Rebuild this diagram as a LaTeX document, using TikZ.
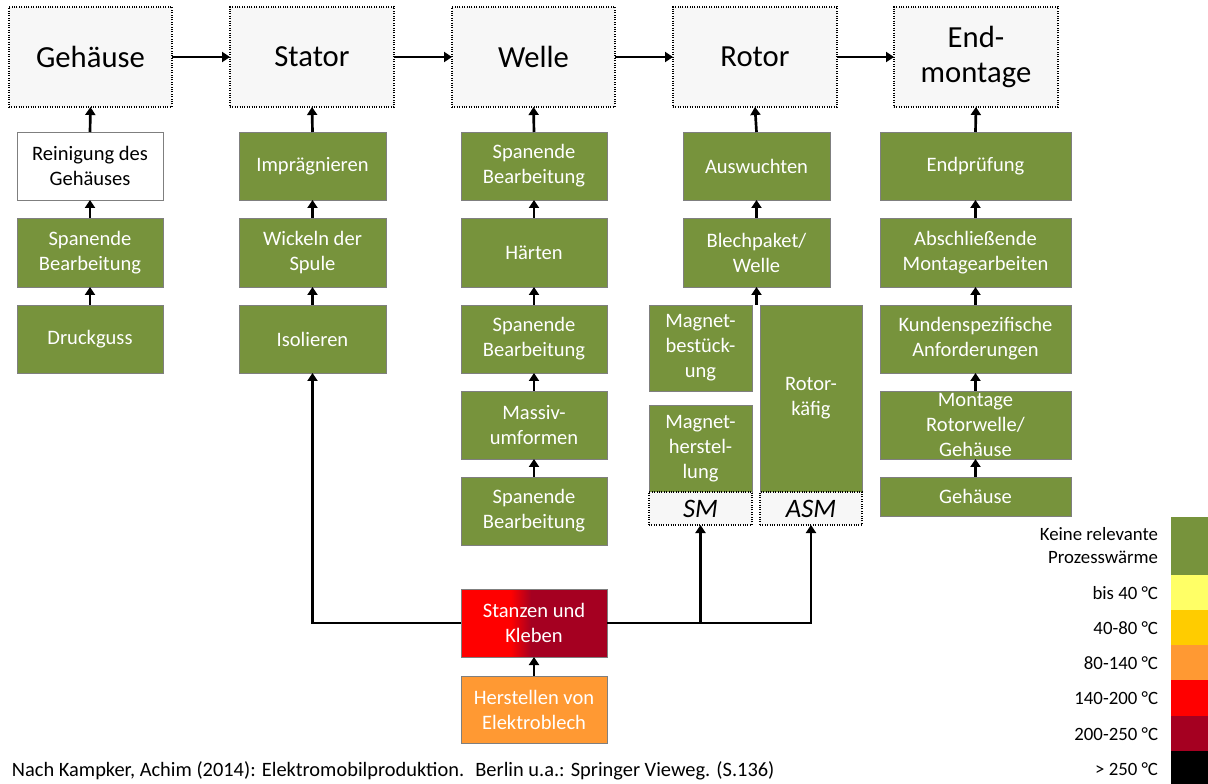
\documentclass[tikz,border=0pt]{standalone}
\usepackage{fontspec}
\setmainfont{Carlito}
\usetikzlibrary{arrows.meta}

\definecolor{procgreen}{HTML}{77933C}
\definecolor{headfill}{HTML}{F7F7F7}
\definecolor{edgegray}{HTML}{7F7F7F}
\definecolor{heatyellow}{HTML}{FFFF66}
\definecolor{heatgold}{HTML}{FFCC00}
\definecolor{heatorange}{HTML}{FF9933}
\definecolor{heatred}{HTML}{FF0000}
\definecolor{heatdark}{HTML}{A50021}

% red-to-dark-red blend used for the punching/gluing step
\pgfdeclarehorizontalshading{punchglue}{100bp}{%
  color(0bp)=(heatred); color(42bp)=(heatred);
  color(49bp)=(heatdark); color(100bp)=(heatdark)}

% box from its corner coordinates (in px): style, name, x1, y1, x2, y2, text
\newcommand\cornerbox[7]{%
  \pgfmathsetmacro\cbw{(#5-#3)*0.75}%
  \pgfmathsetmacro\cbh{(#6-#4)*0.75}%
  \node[#1, minimum width=\cbw pt, minimum height=\cbh pt] (#2)
    at ({(#3+#5)/2},{(#4+#6)/2}) {#7};}

\begin{document}
\begin{tikzpicture}[x=0.75pt,y=-0.75pt,
  every node/.style={inner sep=0pt, outer sep=0pt},
  stage/.style={draw=black, densely dotted, line width=0.8pt, fill=headfill,
    align=center, font=\fontsize{23}{26}\selectfont},
  variant/.style={stage, font=\fontsize{20}{22}\selectfont\itshape},
  proc/.style={draw=edgegray, line width=0.5pt, fill=procgreen, text=white,
    align=center, font=\fontsize{15.4}{18.8}\selectfont},
  plainproc/.style={proc, fill=white, text=black},
  band/.style={draw=none},
  legtext/.style={anchor=east, align=right, font=\fontsize{14.1}{17.3}\selectfont},
  flow/.style={line width=2pt, -{Triangle[width=7.5pt,length=6pt]}}]

\useasboundingbox (0,0) rectangle (1208,784);

% main stages
\cornerbox{stage}{geh}{9}{7}{172}{107}{Gehäuse}
\cornerbox{stage}{sta}{230}{7}{394}{107}{Stator}
\cornerbox{stage}{wel}{452}{7}{615}{107}{Welle}
\cornerbox{stage}{rot}{673}{7}{837}{107}{Rotor}
\cornerbox{stage}{emo}{894}{7}{1058}{107}{End-\\montage}

\draw[flow] (geh.east) -- (sta.west);
\draw[flow] (sta.east) -- (wel.west);
\draw[flow] (wel.east) -- (rot.west);
\draw[flow] (rot.east) -- (emo.west);

% housing
\cornerbox{plainproc}{g1}{17}{132}{163}{200}{Reinigung des\\Gehäuses}
\cornerbox{proc}{g2}{17}{218}{163}{287}{Spanende\\Bearbeitung}
\cornerbox{proc}{g3}{17}{305}{163}{373}{Druckguss}
\draw[flow] (g3.north) -- (g2.south);
\draw[flow] (g2.north) -- (g1.south);
\draw[flow] (g1.north) -- (geh.south);

% stator
\cornerbox{proc}{s1}{239}{132}{386}{200}{Imprägnieren}
\cornerbox{proc}{s2}{239}{218}{386}{287}{Wickeln der\\Spule}
\cornerbox{proc}{s3}{239}{305}{386}{373}{Isolieren}
\draw[flow] (s3.north) -- (s2.south);
\draw[flow] (s2.north) -- (s1.south);
\draw[flow] (s1.north) -- (sta.south);

% shaft
\cornerbox{proc}{w1}{461}{132}{607}{200}{Spanende\\Bearbeitung}
\cornerbox{proc}{w2}{461}{218}{607}{287}{Härten}
\cornerbox{proc}{w3}{461}{305}{607}{373}{Spanende\\Bearbeitung}
\cornerbox{proc}{w4}{461}{391}{607}{459}{Massiv-\\umformen}
\cornerbox{proc}{w5}{461}{477}{607}{545}{Spanende\\Bearbeitung}
\draw[flow] (w5.north) -- (w4.south);
\draw[flow] (w4.north) -- (w3.south);
\draw[flow] (w3.north) -- (w2.south);
\draw[flow] (w2.north) -- (w1.south);
\draw[flow] (w1.north) -- (wel.south);

% rotor
\cornerbox{proc}{r1}{683}{132}{830}{200}{Auswuchten}
\cornerbox{proc}{r2}{683}{218}{830}{287}{Blechpaket/\\Welle}
\cornerbox{proc}{r3}{649}{305}{752}{391}{Magnet-\\bestück-\\ung}
\cornerbox{proc}{r4}{649}{405}{752}{492}{Magnet-\\herstel-\\lung}
\cornerbox{proc}{r5}{760}{305}{862}{492}{Rotor-\\käfig}
\cornerbox{variant}{sm}{649}{492}{752}{525}{SM}
\cornerbox{variant}{asm}{760}{492}{862}{525}{ASM}
\coordinate (rj) at (r2.south |- r3.north);
\draw[flow] (rj) -- (r2.south);
\draw[flow] (r2.north) -- (r1.south);
\draw[flow] (r1.north) -- (rot.south);

% final assembly
\cornerbox{proc}{e1}{880}{132}{1071}{200}{Endprüfung}
\cornerbox{proc}{e2}{880}{218}{1071}{287}{Abschließende\\Montagearbeiten}
\cornerbox{proc}{e3}{880}{305}{1071}{373}{Kundenspezifische\\Anforderungen}
\cornerbox{proc}{e4}{880}{391}{1071}{459}{Montage\\Rotorwelle/\\Gehäuse}
\cornerbox{proc}{e5}{880}{477}{1071}{516}{Gehäuse}
\draw[flow] (e5.north) -- (e4.south);
\draw[flow] (e4.north) -- (e3.south);
\draw[flow] (e3.north) -- (e2.south);
\draw[flow] (e2.north) -- (e1.south);
\draw[flow] (e1.north) -- (emo.south);

% electrical steel
\cornerbox{proc, shading=punchglue}{stz}{461}{589}{607}{657}{Stanzen und\\Kleben}
\cornerbox{proc, fill=heatorange}{her}{461}{676}{607}{743}{Herstellen von\\Elektroblech}
\draw[flow] (her.north) -- (stz.south);
\draw[flow] (stz.west) -| (s3.south);
\draw[flow] (stz.east) -| (asm.south);
\coordinate (smj) at (sm.south |- stz.east);
\draw[flow] (smj) -- (sm.south);

% heat legend
\cornerbox{band, fill=procgreen}{lb0}{1171}{517}{1208}{575}{}
\cornerbox{band, fill=heatyellow}{lb1}{1171}{575}{1208}{610}{}
\cornerbox{band, fill=heatgold}{lb2}{1171}{610}{1208}{645}{}
\cornerbox{band, fill=heatorange}{lb3}{1171}{645}{1208}{680}{}
\cornerbox{band, fill=heatred}{lb4}{1171}{680}{1208}{716}{}
\cornerbox{band, fill=heatdark}{lb5}{1171}{716}{1208}{751}{}
\cornerbox{band, fill=black}{lb6}{1171}{751}{1208}{784}{}

\node[legtext] (lt0) at (1158,546) {Keine relevante\\Prozesswärme};
\node[legtext] (lt1) at (1158,593) {bis 40 °C};
\node[legtext] (lt2) at (1158,628) {40-80 °C};
\node[legtext] (lt3) at (1158,663) {80-140 °C};
\node[legtext] (lt4) at (1158,698) {140-200 °C};
\node[legtext] (lt5) at (1158,734) {200-250 °C};
\node[legtext] (lt6) at (1158,769) {> 250 °C};

% source
\node[anchor=west, font=\fontsize{15.3}{18}\selectfont] (src) at (12,771)
  {Nach Kampker, Achim (2014): Elektromobilproduktion.\hspace{0.25em} Berlin u.a.: Springer Vieweg. (S.136)};

\end{tikzpicture}
\end{document}
